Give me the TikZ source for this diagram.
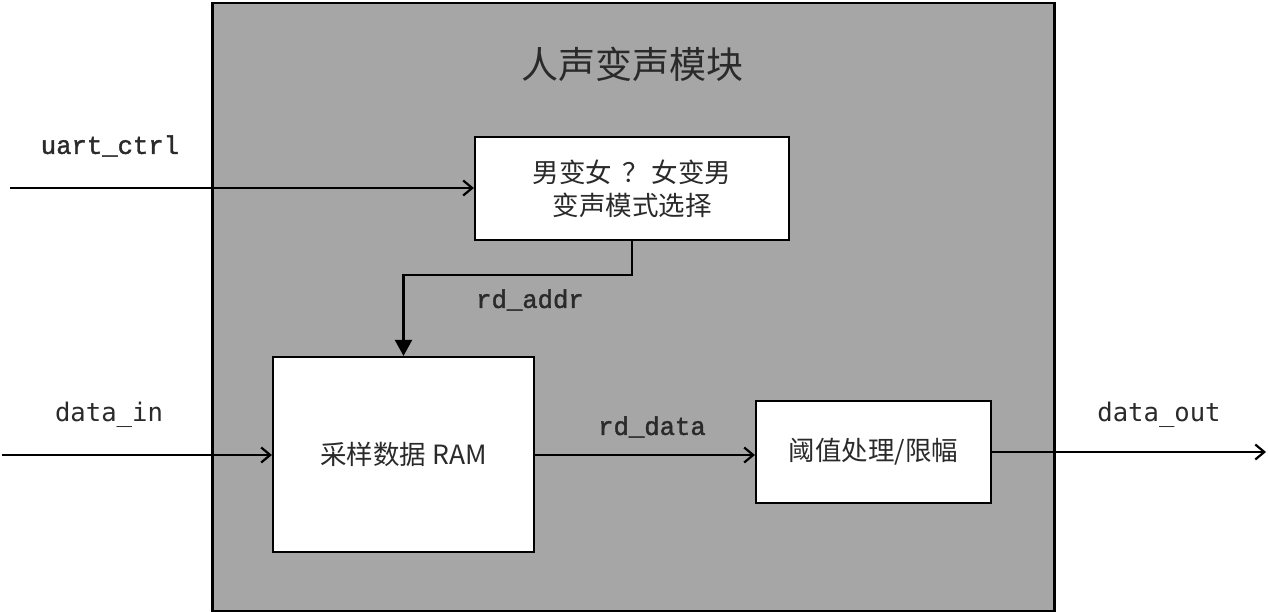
\documentclass[tikz,border=0pt]{standalone}
\usepackage{fontspec}
\newfontfamily\cjk{Noto Sans CJK SC}
\newfontfamily\monoa[FakeBold=1.5]{Liberation Mono}
\newfontfamily\monob{DejaVu Sans Mono}
\usetikzlibrary{arrows.meta}
\definecolor{modgray}{HTML}{A6A6A6}
\definecolor{txt}{HTML}{2A2A2A}
\begin{document}
\begin{tikzpicture}[x=1pt,y=-1pt,
  blockbox/.style={draw=black,line width=2.2pt,fill=white,inner sep=0pt,
    text=txt,font=\cjk\fontsize{26.5}{33}\selectfont,align=center},
  sig/.style={line width=2.2pt,-{Straight Barb[length=9pt,width=15pt,line width=2.2pt]}},
  sigfill/.style={line width=2.2pt,-{Triangle[length=16pt,width=17pt]}},
  lbla/.style={text=txt,font=\monoa\fontsize{25.6}{30}\selectfont,inner sep=0pt},
  lblb/.style={text=txt,font=\monob\fontsize{25.6}{30}\selectfont,inner sep=0pt}]
\useasboundingbox (0,0) rectangle (1268,612);
\fill[white] (0,0) rectangle (1268,612);
\node[draw=black,line width=2.5pt,fill=modgray,minimum width=842pt,minimum height=608pt,inner sep=0pt,anchor=north west] (mod) at (211,2) {};
\node[text=txt,font=\cjk\fontsize{37}{40}\selectfont,inner sep=0pt] (title) at (632,64) {人声变声模块};
\node[blockbox,minimum width=314pt,minimum height=103pt] (b1) at (632,188.5) {男变女\hspace{10pt}？\hspace{3pt}女变男\\变声模式选择};
\node[blockbox,minimum width=261pt,minimum height=195pt] (b2) at (403.5,454.5) {采样数据 RAM};
\node[blockbox,minimum width=235pt,minimum height=102pt] (b3) at (873.5,452) {阈值处理/限幅};
\coordinate (uin) at (10,188);
\coordinate (din) at (2,455);
\coordinate (dout) at (1266,452);
\draw[sig] (uin) -- (uin -| b1.west);
\draw[sig] (din) -- (din -| b2.west);
\draw[sig] (b2.east |- din) -- (din -| b3.west);
\draw[sig] (b3.east) -- (dout);
\draw[sigfill] (b1.south) -- ++(0,34) -| (b2.north);
\node[lbla] (l1) at (110,146) {uart\_ctrl};
\node[lbla] (l2) at (530,300) {rd\_addr};
\node[lblb] (l3) at (109,415) {data\_in};
\node[lbla] (l4) at (652,427) {rd\_data};
\node[lblb] (l5) at (1159,415) {data\_out};
\end{tikzpicture}
\end{document}
